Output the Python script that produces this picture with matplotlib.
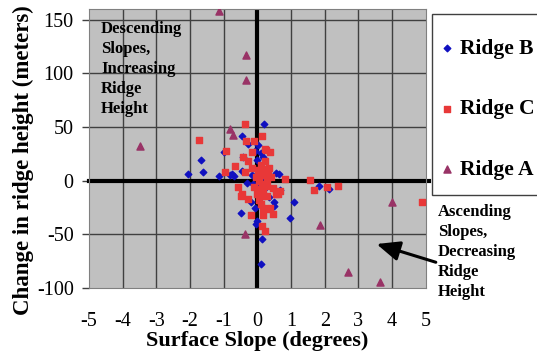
import numpy as np
import matplotlib
matplotlib.use('Agg')
import matplotlib.pyplot as plt
from matplotlib.patches import Rectangle

plt.rcParams['font.family'] = ['Liberation Serif', 'DejaVu Serif']
plt.rcParams['axes.unicode_minus'] = False

# Ridge B (blue diamonds)
b_x = [0.21, -0.45, -0.27, -1.0, -1.67, -1.6, -2.05, -1.13, -0.42, -0.75,
       -0.5, -0.03, 0.15, 0.12, 1.1, 0.96, 1.82, 2.14, 0.48, 0.54,
       0.66, 0.03, -0.06, 0.1, 0.18, 0.0, -0.45, -0.8, 0.3, 0.54,
       0.63, -0.12, 0.03, 0.48, 0.0, -0.7, -0.2, 0.05, 0.2, -0.15,
       0.08, -0.3, 0.36, -0.08, 0.25]
b_y = [53, 42, 34, 27, 19, 8, 6, 4, 22, 6,
       -30, -40, -54, -78, -20, -35, -5, -8, -24, -10,
       -9, 33, 28, 26, 22, 19, 9, 5, 8, 7,
       6, -3, -5, -20, -38, 4, -20, -12, -8, 5,
       12, -2, -15, -25, 2]

# Ridge C (red squares)
c_x = [4.88, 1.55, 1.67, 2.08, 2.41, -1.72, -0.36, 0.15, -0.33, -0.1,
       -0.92, -0.15, 0.27, 0.39, -0.42, -0.27, -0.65, -0.95, -0.56, -0.45,
       -0.2, 0.18, 0.39, 0.18, 0.15, 0.24, 0.45, 0.68, 0.6, 0.83,
       -0.36, 0.21, 0.33, -0.27, 0.15, 0.54, 0.33, 0.45, 0.24, -0.5,
       0.05, 0.1, 0.15, 0.2, 0.08, -0.05, 0.12, 0.25, 0.3, 0.18,
       0.02, -0.1, 0.22, 0.06, -0.15, 0.35, 0.1, -0.02, 0.28, 0.4]
c_y = [-20, 1, -9, -6, -5, 38, 53, 42, 37, 37,
       28, 27, 29, 27, 22, 18, 14, 8, -6, -12,
       -32, -25, -25, -32, -42, -47, -7, -10, -12, 2,
       8, 11, 5, -17, -14, -12, -26, -31, 30, -14,
       0, 5, -3, 8, -8, 3, 15, -5, 0, -10,
       10, -6, 18, -18, 12, 12, -22, -12, -14, 3]

# Ridge A (triangles)
a_x = [-1.15, -0.33, -0.33, -3.5, -0.8, -0.71, -0.36, 1.87, 3.99, 2.68, 3.63]
a_y = [158, 117, 94, 32, 48, 43, -50, -41, -20, -85, -94]

W, H = 537, 351
fig = plt.figure(figsize=(W / 100, H / 100), dpi=100)
ax = fig.add_axes([89 / W, 1 - 288 / H, 336.7 / W, 279 / H])
ax.set_facecolor('#c0c0c0')
ax.set_xlim(-5, 5)
ax.set_ylim(-100, 160)
ax.set_xticks(range(-5, 6))
ax.set_yticks([-100, -50, 0, 50, 100, 150])
for v in range(-4, 5):
    ax.axvline(v, color='#404040', lw=1, zorder=1)
for v in [-50, 50, 100, 150]:
    ax.axhline(v, color='#404040', lw=1, zorder=1)
ax.axvline(0, color='black', lw=3, zorder=2)
ax.plot([-5, 5.1], [0, 0], color='black', lw=3, zorder=2, clip_on=False)

hb = ax.scatter(b_x, b_y, marker='D', s=11, color='#1010c0', zorder=3, label='Ridge B')
hc = ax.scatter(c_x, c_y, marker='s', s=24, color='#e83838', zorder=3, label='Ridge C')
ha = ax.scatter(a_x, a_y, marker='^', s=26, color='#993366', zorder=4, label='Ridge A')

for s in ax.spines.values():
    s.set_color('#808080')
ax.tick_params(axis='y', length=5, width=1, color='#404040', pad=6, labelsize=14.5)
ax.tick_params(axis='x', length=0, pad=17, labelsize=14.5)
ax.set_xlabel('Surface Slope (degrees)', fontsize=16, fontweight='bold', labelpad=0)
ax.set_ylabel('Change in ridge height (meters)', fontsize=16.5, fontweight='bold')
ax.yaxis.set_label_coords(-0.163, 0.459)

ax.text(-4.64, 149, 'Descending\nSlopes,\nIncreasing\nRidge\nHeight', fontsize=12,
        fontweight='bold', va='top', ha='left', linespacing=1.33, zorder=5)
ax.text(5.36, -22, 'Ascending\nSlopes,\nDecreasing\nRidge\nHeight', fontsize=12,
        fontweight='bold', va='top', ha='left', linespacing=1.33, clip_on=False)
ax.annotate('', xy=(3.54, -59), xytext=(5.3, -76),
            arrowprops=dict(arrowstyle='-|>,head_width=0.6,head_length=1.4',
                            color='black', lw=2.2, shrinkA=0, shrinkB=0),
            annotation_clip=False)

# legend frame drawn separately, running off the right edge as in the original
fig.patches.append(Rectangle((432 / W, 1 - 195 / H), 120 / W, 181 / H,
                             transform=fig.transFigure, facecolor='white',
                             edgecolor='#404040', lw=1, zorder=0))
leg = fig.legend(handles=[hb, hc, ha], loc='upper left',
                 bbox_to_anchor=(440.5 / W, 1 - 39 / H), borderaxespad=0,
                 frameon=False, prop={'size': 15.5, 'weight': 'bold'},
                 labelspacing=1.87, handletextpad=0.3, handlelength=0.6,
                 borderpad=0, markerscale=1.0)

fig.savefig('out.png', dpi=100)
